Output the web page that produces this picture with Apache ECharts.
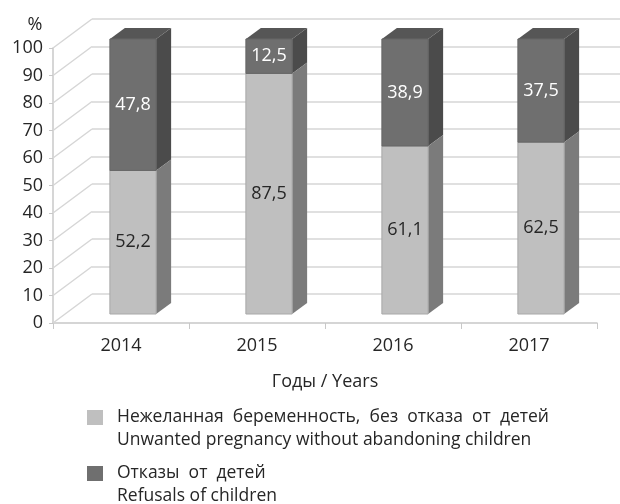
<!DOCTYPE html>
<html>
<head>
<meta charset="utf-8">
<script src="https://cdn.jsdelivr.net/npm/echarts@6/dist/echarts.min.js"></script>
<style>
  html, body { margin: 0; padding: 0; background: #fff; }
  #chart { width: 620px; height: 504px; }
</style>
</head>
<body>
<div id="chart"></div>
<script>
const years = ['2014', '2015', '2016', '2017'];
const unwanted = [52.2, 87.5, 61.1, 62.5];
const refusals = [47.8, 12.5, 38.9, 37.5];
const valueTicks = [0, 10, 20, 30, 40, 50, 60, 70, 80, 90, 100];

const nameUnwanted = 'Нежеланная  беременность,  без  отказа  от  детей\nUnwanted pregnancy without abandoning children';
const nameRefusals = 'Отказы  от  детей\nRefusals of children';

// 3d look: offsets of the back wall and of the bar depth
const wallDepth = [39, -29];
const barDepth = [15, -11];
const barRatio = 0.34;
const font = '"Open Sans", "Noto Sans", sans-serif';

const myChart = echarts.init(document.getElementById('chart'));

function fmt(v) {
  return v.toFixed(1).replace('.', ',');
}

function barRenderer(colors, textColor) {
  return function (params, api) {
    const i = api.value(0);
    const lo = api.value(1);
    const hi = api.value(2);
    const base = api.coord([i, lo]);
    const top = api.coord([i, hi]);
    const w = api.size([1, 0])[0] * barRatio;
    const x0 = base[0] - w / 2, x1 = base[0] + w / 2;
    const yb = base[1], yt = top[1];
    const dx = barDepth[0], dy = barDepth[1];
    return {
      type: 'group',
      children: [
        {
          type: 'polygon',
          shape: { points: [[x1, yb], [x1 + dx, yb + dy], [x1 + dx, yt + dy], [x1, yt]] },
          style: { fill: colors.side }
        },
        {
          type: 'polygon',
          shape: { points: [[x0, yt], [x1, yt], [x1 + dx, yt + dy], [x0 + dx, yt + dy]] },
          style: { fill: colors.top }
        },
        {
          type: 'rect',
          shape: { x: x0, y: yt, width: w, height: yb - yt },
          style: { fill: colors.front, stroke: colors.edge, lineWidth: 1 }
        },
        {
          type: 'text',
          style: {
            text: fmt(hi - lo),
            x: base[0],
            y: (yb + yt) / 2,
            align: 'center',
            verticalAlign: 'middle',
            fill: textColor,
            font: '18px ' + font
          }
        }
      ]
    };
  };
}

// one legend per item; an empty first line lifts the square to the first text line
function legendFor(name, top) {
  return {
    orient: 'vertical',
    left: 82,
    top: top,
    itemWidth: 16,
    itemHeight: 15,
    icon: 'rect',
    selectedMode: false,
    data: [name],
    formatter: n => '\n' + n.split('\n').map(s => '{t|' + s + '}').join('\n'),
    textStyle: {
      fontFamily: font,
      fontSize: 17.5,
      lineHeight: 23,
      color: '#262626',
      rich: {
        t: { fontFamily: font, fontSize: 17.5, lineHeight: 23, color: '#262626', padding: [0, 0, 0, 9] }
      }
    }
  };
}

let option = {
  animation: false,
  textStyle: { fontFamily: font },
  legend: [
    legendFor(nameUnwanted, 378),
    legendFor(nameRefusals, 434)
  ],
  grid: [
    { left: 53, right: 23, top: 48, bottom: 181 },
    { left: 53 + wallDepth[0], right: 23 - wallDepth[0], top: 48 + wallDepth[1], bottom: 181 - wallDepth[1] },
    { left: 65, right: 11, top: 39, bottom: 190 }
  ],
  xAxis: [
    {
      gridIndex: 0,
      type: 'category',
      data: years,
      name: 'Годы / Years',
      nameLocation: 'middle',
      nameGap: 50,
      nameTextStyle: { fontSize: 18, color: '#262626', fontFamily: font },
      axisLine: { lineStyle: { color: '#c8c8c8', width: 1.5 } },
      axisTick: { show: true, length: 6, lineStyle: { color: '#c8c8c8' } },
      axisLabel: { fontSize: 18, color: '#262626', margin: 14, fontFamily: font }
    },
    { gridIndex: 1, type: 'category', data: years, show: false },
    { gridIndex: 2, type: 'category', data: years, show: false }
  ],
  yAxis: [
    {
      gridIndex: 0,
      type: 'value',
      min: 0,
      max: 100,
      interval: 10,
      name: '%',
      nameLocation: 'end',
      nameGap: 14,
      nameTextStyle: { fontSize: 18, color: '#262626', align: 'center', padding: [0, 36, 0, 0], fontFamily: font },
      axisLine: { show: true, lineStyle: { color: '#c8c8c8', width: 1.5 } },
      axisTick: { show: true, length: 4, lineStyle: { color: '#c8c8c8' } },
      axisLabel: { fontSize: 18, color: '#262626', margin: 10, fontFamily: font },
      splitLine: { show: false }
    },
    {
      gridIndex: 1,
      type: 'value',
      min: 0,
      max: 100,
      interval: 10,
      axisLine: { show: false },
      axisTick: { show: false },
      axisLabel: { show: false },
      splitLine: { show: true, lineStyle: { color: '#d6d6d6', width: 1.5 } }
    },
    { gridIndex: 2, type: 'value', min: 0, max: 100, interval: 10, show: false, splitLine: { show: false } }
  ],
  series: [
    {
      // side wall lines from the front axis to the back wall
      type: 'custom',
      name: 'wall',
      xAxisIndex: 0,
      yAxisIndex: 0,
      silent: true,
      z: 1,
      data: valueTicks.map(v => [0, v]),
      renderItem: function (params, api) {
        const p = api.coord([0, api.value(1)]);
        const x = params.coordSys.x;
        return {
          type: 'line',
          shape: { x1: x, y1: p[1], x2: x + wallDepth[0], y2: p[1] + wallDepth[1] },
          style: { stroke: '#d6d6d6', lineWidth: 1.5 }
        };
      }
    },
    {
      type: 'custom',
      name: nameUnwanted,
      xAxisIndex: 2,
      yAxisIndex: 2,
      itemStyle: { color: '#bfbfbf' },
      data: years.map((y, i) => [i, 0, unwanted[i]]),
      renderItem: barRenderer({ front: '#bfbfbf', side: '#7b7b7b', top: '#d9d9d9', edge: '#a8a8a8' }, '#262626')
    },
    {
      type: 'custom',
      name: nameRefusals,
      xAxisIndex: 2,
      yAxisIndex: 2,
      itemStyle: { color: '#6f6f6f' },
      data: years.map((y, i) => [i, unwanted[i], unwanted[i] + refusals[i]]),
      renderItem: barRenderer({ front: '#6f6f6f', side: '#4b4b4b', top: '#565656', edge: '#666666' }, '#ffffff')
    }
  ]
};
option && myChart.setOption(option);
</script>
</body>
</html>
